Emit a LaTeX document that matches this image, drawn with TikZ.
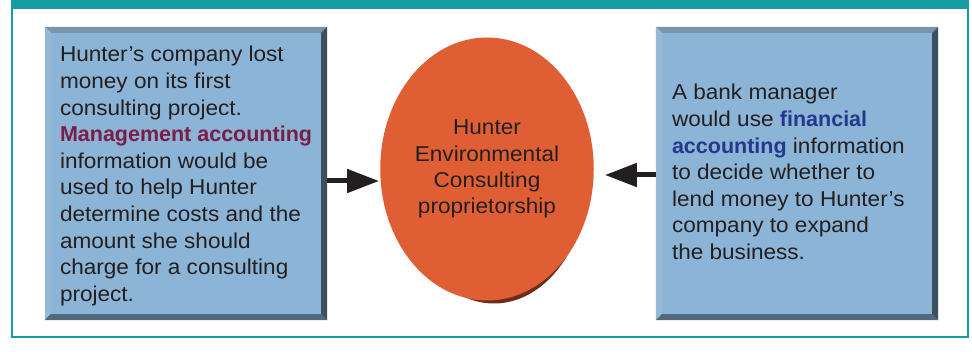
\documentclass[tikz,border=0pt]{standalone}
\usepackage{fontspec}
\setmainfont{Liberation Sans}[FakeStretch=1.05]
\newfontface\bfface{Liberation Sans Bold}
\usetikzlibrary{shapes.geometric,arrows.meta}
\definecolor{frameteal}{RGB}{20,158,164}
\definecolor{boxblue}{RGB}{139,180,215}
\definecolor{bevtopc}{RGB}{122,148,170}
\definecolor{bevleftc}{RGB}{150,184,212}
\definecolor{bevrightc}{RGB}{60,80,96}
\definecolor{bevbotc}{RGB}{82,104,124}
\definecolor{ovalred}{RGB}{224,94,52}
\definecolor{ovalshadow}{RGB}{108,46,26}
\definecolor{mgmtred}{RGB}{122,30,72}
\definecolor{finblue}{RGB}{38,56,140}
\definecolor{inktxt}{RGB}{35,31,32}
\def\mtxt#1{\textcolor{mgmtred}{\bfface #1}}
\def\ftxt#1{\textcolor{finblue}{\bfface #1}}
% bevelled edges of a box node
\def\bevel#1{%
  \fill[bevtopc] (#1.north west) -- (#1.north east) -- ([shift={(-6pt,-6pt)}]#1.north east) -- ([shift={(6pt,-6pt)}]#1.north west) -- cycle;
  \fill[bevleftc] (#1.north west) -- (#1.south west) -- ([shift={(6pt,6pt)}]#1.south west) -- ([shift={(6pt,-6pt)}]#1.north west) -- cycle;
  \fill[bevbotc] (#1.south west) -- (#1.south east) -- ([shift={(-6pt,6pt)}]#1.south east) -- ([shift={(6pt,6pt)}]#1.south west) -- cycle;
  \fill[bevrightc] (#1.north east) -- (#1.south east) -- ([shift={(-6pt,6pt)}]#1.south east) -- ([shift={(-6pt,-6pt)}]#1.north east) -- cycle;}

\begin{document}
\begin{tikzpicture}[x=1pt,y=-1pt,
    infobox/.style={rectangle,fill=boxblue,minimum width=282pt,minimum height=293pt,inner sep=0pt},
    boxtxt/.style={align=left,inner sep=0pt,text=inktxt,font=\fontsize{21.5}{26.6}\selectfont},
    arrowline/.style={line width=5pt,inktxt,-{Triangle[length=32pt,width=23pt]}}]
  \fill[white] (0,0) rectangle (972,352);
  \useasboundingbox (0,0) rectangle (972,352);
  % frame
  \fill[frameteal] (11,0) rectangle (969,9);
  \draw[frameteal,line width=1.4pt] (12,9) -- (12,337) -- (968,337) -- (968,9);
%
  \node [infobox] at (186,173.5) (lbox) {};
  \node [infobox] at (797,173.5) (rbox) {};
  \bevel{lbox}
  \bevel{rbox}
  \node [boxtxt,anchor=west] at ([xshift=15pt,yshift=-2.5pt]lbox.west) (ltxt) {Hunter’s company lost\\ money on its first\\ consulting project.\\ \mtxt{Management accounting}\\ information would be\\ used to help Hunter\\ determine costs and the\\ amount she should\\ charge for a consulting\\ project.};
  \node [boxtxt,anchor=west] at ([xshift=16pt,yshift=1.5pt]rbox.west) (rtxt) {A bank manager\\ would use \ftxt{financial}\\ \ftxt{accounting} information\\ to decide whether to\\ lend money to Hunter’s\\ company to expand\\ the business.};
%
  \node [ellipse,fill=ovalshadow,minimum width=190pt,minimum height=263pt] at (494,172) (hshadow) {};
  \node [ellipse,fill=ovalred,minimum width=190pt,minimum height=263pt,align=center,text=inktxt,font=\fontsize{21.5}{26.3}\selectfont] at (487,169) (hunter) {Hunter\\ Environmental\\ Consulting\\ proprietorship};
%
  \path[arrowline] ([yshift=-7.5pt]lbox.east) edge ([xshift=-1pt,yshift=-12pt]hunter.west);
  \path[arrowline] ([yshift=-1.5pt]rbox.west) edge ([xshift=11pt,yshift=-6pt]hunter.east);
\end{tikzpicture}
\end{document}
